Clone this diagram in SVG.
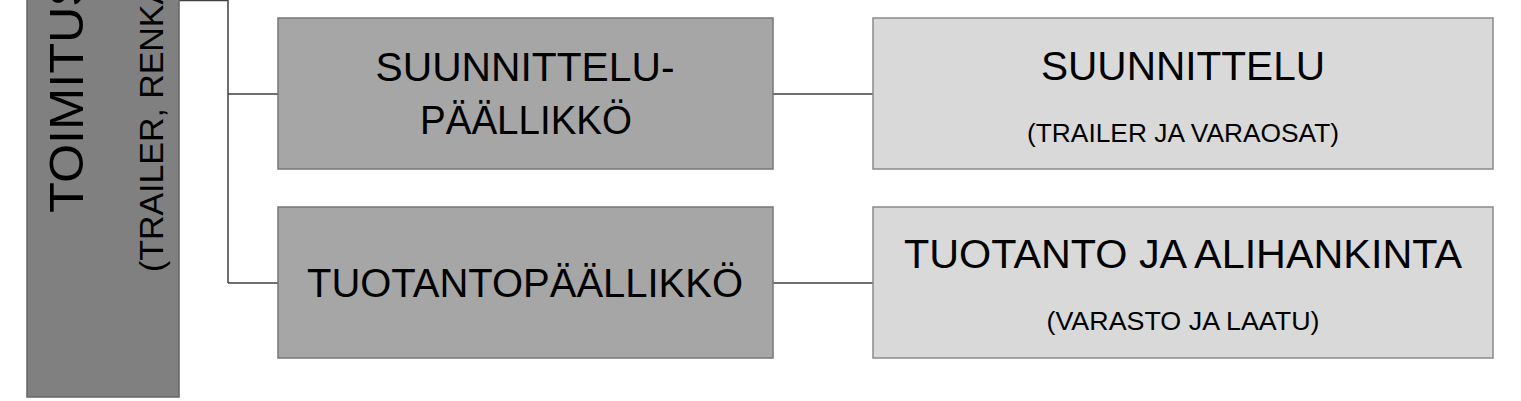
<svg xmlns="http://www.w3.org/2000/svg" width="1521" height="401" viewBox="0 0 1521 401">
<style>
text{font-family:"Liberation Sans",Arial,sans-serif;fill:#000}
.b{font-size:40px;text-anchor:middle}
.s{font-size:26px;text-anchor:middle}
.mid{fill:#a6a6a6;stroke:#777;stroke-width:1.5}
.rt{fill:#d9d9d9;stroke:#8a8a8a;stroke-width:1.5}
.c{stroke:#404040;stroke-width:1.5;fill:none}
</style>
<rect width="1521" height="401" fill="#fff"/>
<g id="connectors">
<path class="c" d="M179 0.5H228" stroke="#ccc"/>
<path class="c" d="M228 0V283M228 94H278M228 283H278M773 94H873M773 283H873"/>
</g>
<g id="top">
<rect x="27" y="-5" width="152" height="402" fill="#808080" stroke="#666" stroke-width="1.5"/>
<text transform="translate(83,213) rotate(-90)" font-size="48" textLength="240" lengthAdjust="spacingAndGlyphs">TOIMITUS</text>
<text transform="translate(163,272) rotate(-90)" font-size="33" textLength="290" lengthAdjust="spacingAndGlyphs">(TRAILER, RENKA</text>
</g>
<g id="suunnittelupaallikko">
<rect class="mid" x="278" y="18" width="495" height="151"/>
<text class="b" x="525" y="81" textLength="299" lengthAdjust="spacingAndGlyphs">SUUNNITTELU-</text>
<text class="b" x="526" y="134" textLength="212" lengthAdjust="spacingAndGlyphs">PÄÄLLIKKÖ</text>
</g>
<g id="tuotantopaallikko">
<rect class="mid" x="278" y="207" width="495" height="151"/>
<text class="b" x="525" y="297" textLength="436" lengthAdjust="spacingAndGlyphs">TUOTANTOPÄÄLLIKKÖ</text>
</g>
<g id="suunnittelu">
<rect class="rt" x="873" y="18" width="620" height="151"/>
<text class="b" x="1183" y="80" textLength="284" lengthAdjust="spacingAndGlyphs">SUUNNITTELU</text>
<text class="s" x="1183" y="142" textLength="312" lengthAdjust="spacingAndGlyphs">(TRAILER JA VARAOSAT)</text>
</g>
<g id="tuotanto">
<rect class="rt" x="873" y="207" width="620" height="151"/>
<text class="b" x="1183" y="268" textLength="558" lengthAdjust="spacingAndGlyphs">TUOTANTO JA ALIHANKINTA</text>
<text class="s" x="1183" y="330" textLength="273" lengthAdjust="spacingAndGlyphs">(VARASTO JA LAATU)</text>
</g>
</svg>
